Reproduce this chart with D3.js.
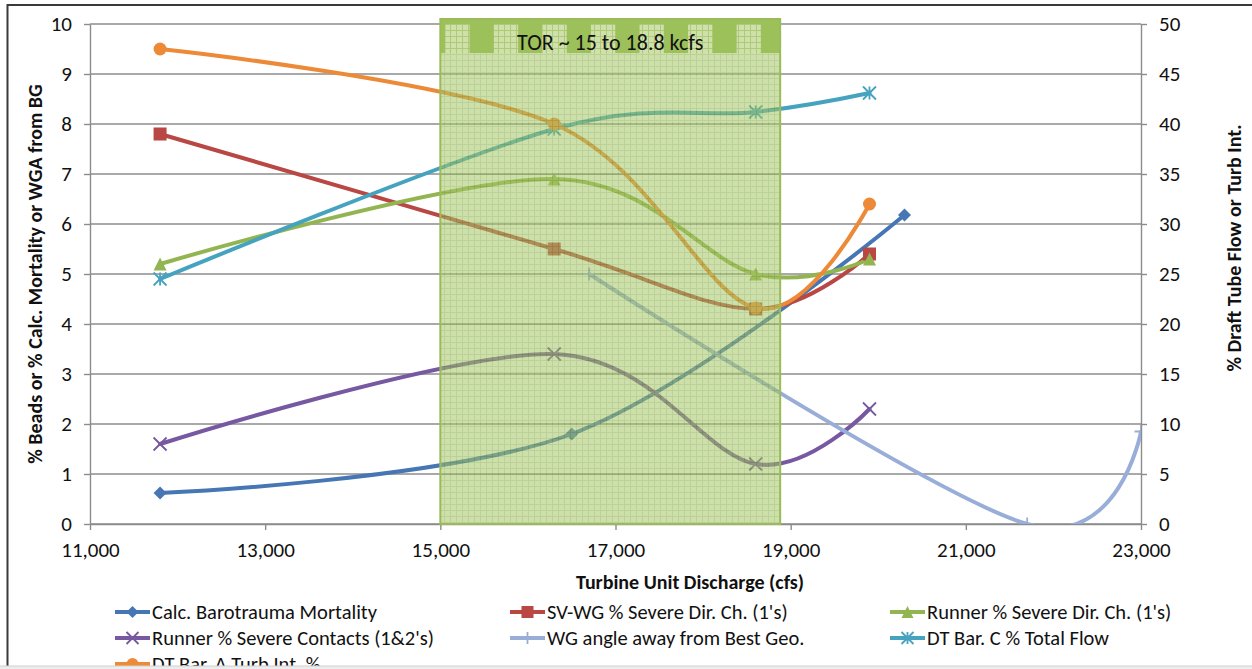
<!DOCTYPE html>
<html><head><meta charset="utf-8">
<script src="https://cdn.jsdelivr.net/npm/d3@7"></script>
<style>
html,body{margin:0;padding:0;background:#fff;}
svg{display:block;font-family:Carlito, Calibri, Lato, sans-serif;}
</style></head>
<body><svg id="chart" width="1252" height="669"></svg>
<script>
// ---------------- data ----------------
const xTicks = [11000, 13000, 15000, 17000, 19000, 21000, 23000];
const leftTicks = [0,1,2,3,4,5,6,7,8,9,10];
const rightTicks = [0,5,10,15,20,25,30,35,40,45,50];
const torRange = [15000, 18880];
const torLabel = "TOR ~ 15 to 18.8 kcfs";

const baroX = [11800, 16500, 20300];
const baroY = [0.62, 1.8, 6.18];

const testX = [11800, 16300, 18600, 19900];
const svwgY = [7.8, 5.5, 4.3, 5.4];
const runnerDirY = [5.2, 6.9, 5.0, 5.3];
const runnerContY = [1.6, 3.4, 1.2, 2.3];

const wgX = [16700, 21700, 23000];
const wgY = [5.0, 0, 1.85];

const dtcY = [24.5, 39.5, 41.2, 43.1];   // right axis
const dtaY = [47.5, 40.0, 21.6, 32.0];   // right axis

const seriesNames = [
  "Calc. Barotrauma Mortality", "SV-WG % Severe Dir. Ch. (1's)", "Runner % Severe Dir. Ch. (1's)",
  "Runner % Severe Contacts (1&2's)", "WG angle away from Best Geo.", "DT Bar. C % Total Flow",
  "DT Bar. A Turb Int. %"
];
const xTitle = "Turbine Unit Discharge (cfs)";
const yLeftTitle = "% Beads or % Calc. Mortality or WGA from BG";
const yRightTitle = "% Draft Tube Flow or Turb Int.";

// ---------------- setup ----------------
const svg = d3.select("#chart");
const FONT = "Carlito, Calibri, Lato, sans-serif";
const L = 90, R = 1141, T = 24, B = 524;
const x = d3.scaleLinear().domain([11000, 23000]).range([L, R]);
const yL = d3.scaleLinear().domain([0, 10]).range([B, T]);
const yR = d3.scaleLinear().domain([0, 50]).range([B, T]);

const series = [
  {name: seriesNames[0], xs: baroX, ys: baroY, axis: yL, color: "#4676B4", marker: "diamond"},
  {name: seriesNames[1], xs: testX, ys: svwgY, axis: yL, color: "#B94744", marker: "square"},
  {name: seriesNames[2], xs: testX, ys: runnerDirY, axis: yL, color: "#93B551", marker: "triangle"},
  {name: seriesNames[3], xs: testX, ys: runnerContY, axis: yL, color: "#7659A0", marker: "x"},
  {name: seriesNames[4], xs: wgX, ys: wgY, axis: yL, color: "#98AED9", marker: "plus"},
  {name: seriesNames[5], xs: testX, ys: dtcY, axis: yR, color: "#45A3BF", marker: "star"},
  {name: seriesNames[6], xs: testX, ys: dtaY, axis: yR, color: "#EC8A38", marker: "circle"}
];

const defs = svg.append("defs");
defs.append("clipPath").attr("id", "plotclip").append("rect")
  .attr("x", L).attr("y", T - 6).attr("width", R - L).attr("height", B - T + 6);
const pat = defs.append("pattern").attr("id", "grid").attr("patternUnits", "userSpaceOnUse")
  .attr("width", 6).attr("height", 6);
pat.append("rect").attr("width", 6).attr("height", 6).attr("fill", "#A6C664");
pat.append("path").attr("d", "M0,0.5H6M0.5,0V6").attr("stroke", "#86A948").attr("stroke-width", 1);
const pat2 = defs.append("pattern").attr("id", "gridLight").attr("patternUnits", "userSpaceOnUse")
  .attr("width", 6).attr("height", 6);
pat2.append("rect").attr("width", 6).attr("height", 6).attr("fill", "#CFE0A8");
pat2.append("path").attr("d", "M0,0.5H6M0.5,0V6").attr("stroke", "#ADC97C").attr("stroke-width", 1);

// outer frame
svg.append("rect").attr("x", 7.5).attr("y", 5).attr("width", 1260).attr("height", 700)
  .attr("fill", "none").attr("stroke", "#3a3a3a").attr("stroke-width", 2);

// gridlines
svg.append("g").selectAll("line").data(leftTicks).join("line")
  .attr("x1", L).attr("x2", R).attr("y1", d => yL(d)).attr("y2", d => yL(d))
  .attr("stroke", "#8C8C8C").attr("stroke-width", 1.4);

// axes
function styleAxis(g) {
  g.selectAll(".domain").attr("stroke", "#8C8C8C").attr("stroke-width", 1.4);
  g.selectAll(".tick line").attr("stroke", "#8C8C8C").attr("stroke-width", 1.4);
  g.selectAll(".tick text").attr("fill", "#111").style("font-size", "21px").style("font-family", FONT);
}
svg.append("g").attr("transform", `translate(0,${B})`)
  .call(d3.axisBottom(x).tickValues(xTicks).tickFormat(d3.format(",")).tickSizeInner(6).tickSizeOuter(0).tickPadding(12))
  .call(styleAxis);
svg.append("g").attr("transform", `translate(${L},0)`)
  .call(d3.axisLeft(yL).tickValues(leftTicks).tickFormat(d3.format("d")).tickSizeInner(6).tickSizeOuter(0).tickPadding(12))
  .call(styleAxis);
svg.append("g").attr("transform", `translate(${R},0)`)
  .call(d3.axisRight(yR).tickValues(rightTicks).tickFormat(d3.format("d")).tickSizeInner(6).tickSizeOuter(0).tickPadding(12))
  .call(styleAxis);

// axis titles
svg.append("text").attr("transform", `translate(35,${(T + B) / 2}) rotate(-90)`)
  .attr("text-anchor", "middle").attr("dy", "0.35em").style("font-size", "20px").style("font-weight", "bold")
  .attr("fill", "#111").text(yLeftTitle);
svg.append("text").attr("transform", `translate(1234,248) rotate(-90)`)
  .attr("text-anchor", "middle").attr("dy", "0.35em").style("font-size", "20px").style("font-weight", "bold")
  .attr("fill", "#111").text(yRightTitle);
svg.append("text").attr("x", 690).attr("y", 589).attr("text-anchor", "middle")
  .style("font-size", "20px").style("font-weight", "bold").attr("fill", "#111").text(xTitle);

// marker drawing
function drawMarker(g, type, color, s) {
  const h = s / 2;
  if (type === "diamond") g.append("path").attr("d", `M0,${-h}L${h},0L0,${h}L${-h},0Z`).attr("fill", color);
  else if (type === "square") g.append("rect").attr("x", -h).attr("y", -h).attr("width", s).attr("height", s).attr("fill", color);
  else if (type === "triangle") g.append("path").attr("d", `M0,${-h}L${h},${h}L${-h},${h}Z`).attr("fill", color);
  else if (type === "circle") g.append("circle").attr("r", h).attr("fill", color);
  else if (type === "x") g.append("path").attr("d", `M${-h},${-h}L${h},${h}M${-h},${h}L${h},${-h}`).attr("stroke", color).attr("stroke-width", 1.8).attr("fill", "none");
  else if (type === "plus") g.append("path").attr("d", `M${-h},0L${h},0M0,${-h}L0,${h}`).attr("stroke", color).attr("stroke-width", 1.8).attr("fill", "none");
  else if (type === "star") g.append("path").attr("d", `M${-h},${-h}L${h},${h}M${-h},${h}L${h},${-h}M0,${-h}L0,${h}`).attr("stroke", color).attr("stroke-width", 1.8).attr("fill", "none");
}

// lines
const plot = svg.append("g").attr("clip-path", "url(#plotclip)");
series.forEach(s => {
  const pts = s.xs.map((v, i) => [x(v), s.axis(s.ys[i])]);
  plot.append("path").datum(pts)
    .attr("d", d3.line().curve(d3.curveCardinal.tension(0)))
    .attr("fill", "none").attr("stroke", s.color).attr("stroke-width", 4)
    .attr("stroke-linejoin", "round").attr("stroke-linecap", "round");
});
series.forEach(s => {
  s.xs.forEach((v, i) => {
    const g = plot.append("g").attr("transform", `translate(${x(v)},${s.axis(s.ys[i])})`);
    drawMarker(g, s.marker, s.color, 13);
  });
});

// TOR box overlay
const bx0 = x(torRange[0]), bx1 = x(torRange[1]);
const boxTop = 19, headBot = 53;
svg.append("rect").attr("x", bx0).attr("y", headBot).attr("width", bx1 - bx0).attr("height", B - headBot)
  .attr("fill", "url(#grid)").attr("opacity", 0.55);
svg.append("rect").attr("x", bx0).attr("y", boxTop).attr("width", bx1 - bx0).attr("height", headBot - boxTop)
  .attr("fill", "#9CC05A");
const nSq = 7, per = (bx1 - bx0) / nSq;
svg.append("g").selectAll("rect").data(d3.range(nSq)).join("rect")
  .attr("x", i => bx0 + 5 + i * per).attr("y", boxTop + 5).attr("width", per / 2).attr("height", headBot - boxTop - 5)
  .attr("fill", "url(#gridLight)");
svg.append("rect").attr("x", bx0).attr("y", boxTop).attr("width", bx1 - bx0).attr("height", B - boxTop)
  .attr("fill", "none").attr("stroke", "#9BBB59").attr("stroke-width", 2);
svg.append("text").attr("x", (bx0 + bx1) / 2).attr("y", 50).attr("text-anchor", "middle")
  .style("font-size", "22px").attr("fill", "#111").text(torLabel);

// legend
const legCols = [115, 510, 890];
const legRows = [612, 638, 664];
series.forEach((s, i) => {
  const cx = legCols[i % 3], cy = legRows[Math.floor(i / 3)];
  const g = svg.append("g");
  g.append("line").attr("x1", cx).attr("x2", cx + 35).attr("y1", cy).attr("y2", cy)
    .attr("stroke", s.color).attr("stroke-width", 4);
  const mg = g.append("g").attr("transform", `translate(${cx + 17.5},${cy})`);
  drawMarker(mg, s.marker, s.color, 12);
  g.append("text").attr("x", cx + 37).attr("y", cy).attr("dy", "0.35em")
    .style("font-size", "20.5px").attr("fill", "#111").text(s.name);
});

// bottom strip (cut-off edge, as in the source image)
svg.append("rect").attr("x", 0).attr("y", 666).attr("width", 1252).attr("height", 4).attr("fill", "#EDEDED");
svg.append("line").attr("x1", 0).attr("x2", 1252).attr("y1", 666).attr("y2", 666).attr("stroke", "#D0D0D0");
</script></body></html>
